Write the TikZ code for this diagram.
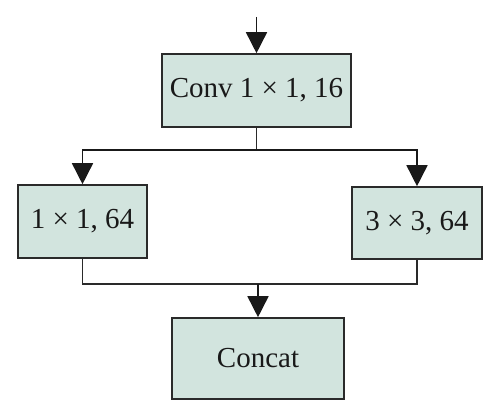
\documentclass[tikz,border=0pt]{standalone}
\usepackage{fontspec}
\setmainfont{Liberation Serif}
\usetikzlibrary{arrows.meta}
\definecolor{boxfill}{HTML}{D2E4DE}
\definecolor{edge}{HTML}{2A2A2A}
\tikzset{
  blk/.style={draw=edge, fill=boxfill, line width=1.6pt, inner sep=0pt, font=\fontsize{29}{34}\selectfont, text=black!90},
  conn/.style={draw=edge, line width=1.6pt},
  arr/.style={conn, -{Triangle[width=21pt,length=21pt]}, color=black!90}
}
\begin{document}
\begin{tikzpicture}[x=1pt,y=-1pt]
\useasboundingbox (0,0) rectangle (500,417);
\node[blk, minimum width=189pt, minimum height=73pt] (conv) at (256.5,90.5) {Conv 1 × 1, 16};
\node[blk, minimum width=129pt, minimum height=73pt] (left) at (82.5,221.5) {1 × 1, 64};
\node[blk, minimum width=130pt, minimum height=72pt] (right) at (417,223) {3 × 3, 64};
\node[blk, minimum width=172pt, minimum height=81pt] (concat) at (258,358.5) {Concat};
\coordinate (in) at (256.5,17);
\coordinate (split) at (256.5,150);
\coordinate (merge) at (258,284);
\draw[arr] (in) -- (conv.north);
\draw[conn] (conv.south) -- (split);
\draw[arr] (split) -| (left.north);
\draw[arr] (split) -| (right.north);
\draw[conn] (left.south) |- (merge);
\draw[conn] (right.south) |- (merge);
\draw[arr] (merge) -- (concat.north);
\end{tikzpicture}
\end{document}
